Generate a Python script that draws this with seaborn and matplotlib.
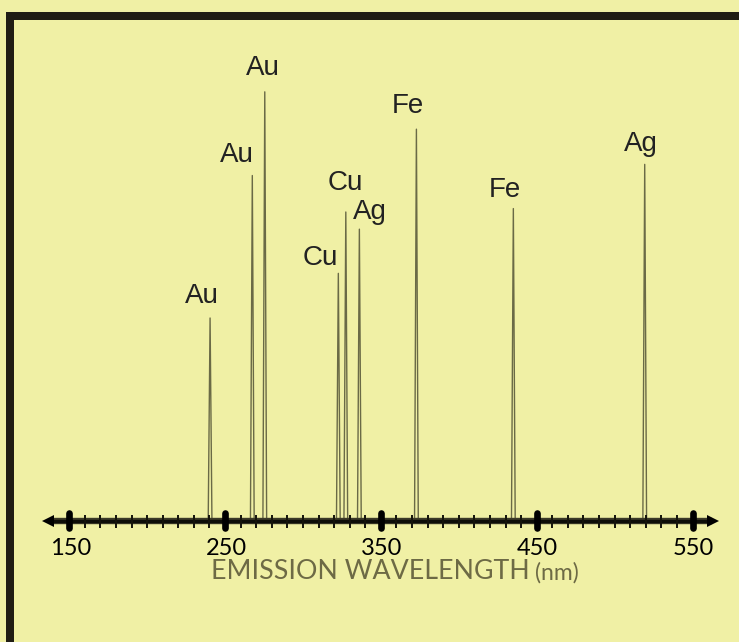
import numpy as np
import pandas as pd
import matplotlib
matplotlib.use("Agg")
import matplotlib.pyplot as plt
from matplotlib.patches import Rectangle
import seaborn as sns

# emission lines: element, wavelength (nm), relative intensity (tallest = 100)
elements = ["Au", "Au", "Au", "Cu", "Cu", "Ag", "Fe", "Fe", "Ag"]
wavelengths = [240.4, 267.5, 275.5, 322.7, 327.5, 336.2, 372.8, 435.0, 519.3]
intensities = [47.3, 80.5, 100.0, 57.7, 72.0, 68.0, 91.3, 72.8, 83.1]

major_ticks = [150, 250, 350, 450, 550]
minor_ticks = [v for v in range(160, 550, 10) if v not in major_ticks]

# label nudges in pixels (dx, gap above peak)
label_offsets = [(-8, 15), (-15, 14), (-2, 17), (-18, 8), (0, 22),
                 (11, 10), (-9, 16), (-8, 12), (-4, 13)]

BG = "#f0f0a5"
INK = "#201d14"
LINE = "#6a6a46"

W, H = 739, 642
XMIN, XMAX = 105.6, 579.8
YMIN, YMAX = -28.2, 121.4
py = H / (YMAX - YMIN)  # pixels per intensity unit

sns.set_theme(style="white")
plt.rcParams["font.family"] = ["Liberation Sans", "DejaVu Sans"]

fig = plt.figure(figsize=(W / 100, H / 100), dpi=100, facecolor=BG)
ax = fig.add_axes([0, 0, 1, 1])
ax.set_facecolor(BG)

# each line drawn as a very narrow triangle
hw = 1.2
rows = []
for i, (wl, inten) in enumerate(zip(wavelengths, intensities)):
    rows += [(i, wl - hw, 0.0), (i, wl, inten), (i, wl + hw, 0.0)]
peaks = pd.DataFrame(rows, columns=["line", "wl", "I"])
sns.lineplot(data=peaks, x="wl", y="I", units="line", estimator=None,
             sort=False, color=LINE, lw=1.0, ax=ax, legend=False)

for el, wl, inten, (dx, dy) in zip(elements, wavelengths, intensities, label_offsets):
    ax.annotate(el, xy=(wl, inten), xytext=(dx, dy), textcoords="offset pixels",
                ha="center", va="baseline", fontsize=20, color="#222222")

# number line axis
ax.plot([137.4, 562.2], [0, 0], lw=4.6, color="#3c3a28", solid_capstyle="butt", zorder=3)
ax.plot([137.4, 562.2], [0, 0], lw=2.4, color="#0d0d08", solid_capstyle="butt", zorder=3)
ax.plot([136.5], [0], marker="<", ms=9, mew=0, color="black", zorder=4)
ax.plot([563.0], [0], marker=">", ms=9, mew=0, color="black", zorder=4)
ax.vlines(minor_ticks, -7 / py, 6 / py, lw=1.4, color="#15140c", zorder=4)
ax.vlines(major_ticks, -7 / py, 8 / py, lw=4.8, color="black",
          capstyle="round", zorder=5)

for v in major_ticks:
    ax.annotate(str(v), xy=(v, 0), xytext=(1, -28), textcoords="offset pixels",
                ha="center", va="center", fontsize=17, color="black",
                family=["Lato", "DejaVu Sans"])

t = ax.annotate("EMISSION WAVELENGTH", xy=(241, 0), xytext=(0, -63),
                textcoords="offset pixels", ha="left", va="bottom",
                fontsize=19.3, color="#6d6a45", family=["Lato", "DejaVu Sans"])
ax.annotate("(nm)", xy=(1, 0), xycoords=t, xytext=(5, 0), textcoords="offset pixels",
            ha="left", va="bottom", fontsize=16.5, color="#6d6a45",
            family=["Lato", "DejaVu Sans"])

# dark frame on top and left
ax.add_patch(Rectangle((10 / W, -0.1), 1.5, (1 - 16 / H) + 0.1, transform=ax.transAxes,
                       fill=False, ec=INK, lw=8 * 0.72, joinstyle="miter"))

ax.set_xlim(XMIN, XMAX)
ax.set_ylim(YMIN, YMAX)
ax.axis("off")

fig.savefig("out.png", dpi=100, facecolor=BG)
